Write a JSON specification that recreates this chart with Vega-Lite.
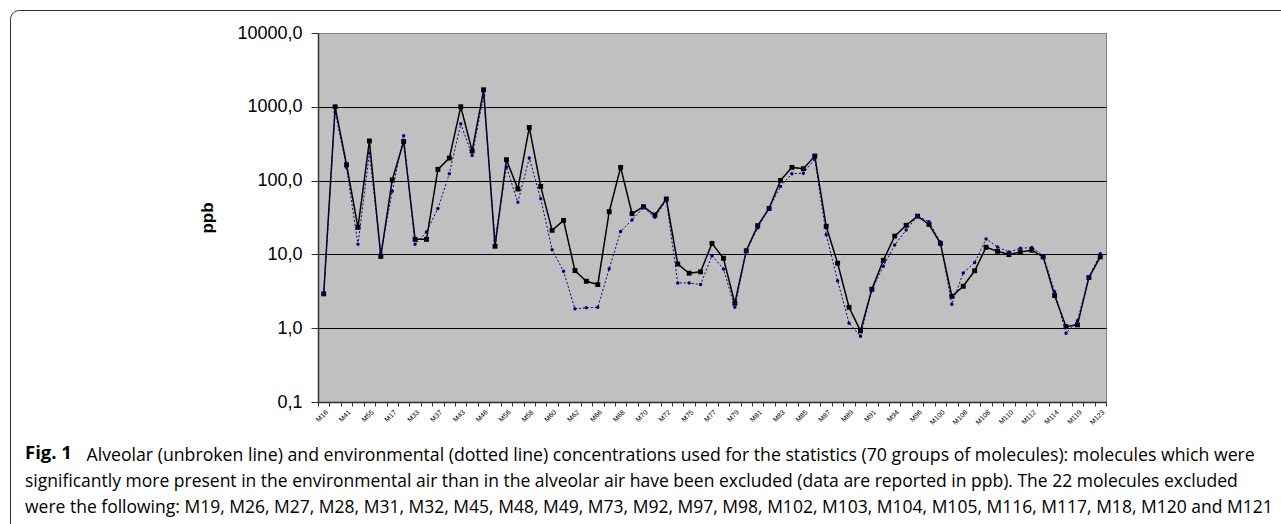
{
  "$schema": "https://vega.github.io/schema/vega-lite/v6.json",
  "width": 788,
  "height": 369,
  "autosize": {"type": "none"},
  "padding": {"left": 318, "top": 33, "right": 175, "bottom": 122},
  "background": "white",
  "config": {
    "view": {"fill": "#C0C0C0", "stroke": "#808080", "strokeWidth": 1},
    "font": "Liberation Sans"
  },
  "title": {
    "text": "Fig. 1",
    "subtitle": [
      "significantly more present in the environmental air than in the alveolar air have been excluded (data are reported in ppb). The 22 molecules excluded",
      "were the following: M19, M26, M27, M28, M31, M32, M45, M48, M49, M73, M92, M97, M98, M102, M103, M104, M105, M116, M117, M18, M120 and M121"
    ],
    "orient": "bottom",
    "anchor": "start",
    "frame": "group",
    "dx": -293,
    "dy": -83.5,
    "offset": 0,
    "baseline": "alphabetic",
    "font": "Open Sans",
    "fontSize": 18.5,
    "fontWeight": "bold",
    "color": "black",
    "subtitleFont": "Open Sans",
    "subtitleFontSize": 17.5,
    "subtitleFontWeight": "normal",
    "subtitleColor": "black",
    "subtitleLineHeight": 26.7,
    "subtitlePadding": 9
  },
  "data": {
    "values": [
      {"m": "M16", "alv": 2.92, "env": 2.9},
      {"m": "M40", "alv": 1000, "env": 850},
      {"m": "M41", "alv": 164, "env": 151},
      {"m": "M54", "alv": 23.3, "env": 13.7},
      {"m": "M55", "alv": 344, "env": 236},
      {"m": "M15", "alv": 9.4, "env": 10.5},
      {"m": "M17", "alv": 102, "env": 71.5},
      {"m": "M30", "alv": 339, "env": 405},
      {"m": "M33", "alv": 16, "env": 13.7},
      {"m": "M34", "alv": 16, "env": 20.1},
      {"m": "M37", "alv": 142, "env": 42},
      {"m": "M42", "alv": 202, "env": 124},
      {"m": "M43", "alv": 1000, "env": 589},
      {"m": "M44", "alv": 252, "env": 219},
      {"m": "M46", "alv": 1700, "env": 1422},
      {"m": "M47", "alv": 12.9, "env": 15.4},
      {"m": "M56", "alv": 192, "env": 153},
      {"m": "M57", "alv": 77, "env": 50.7},
      {"m": "M58", "alv": 525, "env": 202},
      {"m": "M59", "alv": 83.5, "env": 57},
      {"m": "M60", "alv": 21.2, "env": 11.6},
      {"m": "M61", "alv": 28.9, "env": 5.9},
      {"m": "M62", "alv": 6.04, "env": 1.83},
      {"m": "M65", "alv": 4.33, "env": 1.89},
      {"m": "M66", "alv": 3.9, "env": 1.92},
      {"m": "M67", "alv": 37.9, "env": 6.4},
      {"m": "M68", "alv": 151, "env": 20.5},
      {"m": "M69", "alv": 35.6, "env": 29.3},
      {"m": "M70", "alv": 44.3, "env": 43},
      {"m": "M71", "alv": 34.2, "env": 31.8},
      {"m": "M72", "alv": 56.3, "env": 54},
      {"m": "M74", "alv": 7.4, "env": 4.11},
      {"m": "M75", "alv": 5.56, "env": 4.11},
      {"m": "M76", "alv": 5.8, "env": 3.9},
      {"m": "M77", "alv": 14.1, "env": 9.6},
      {"m": "M78", "alv": 8.86, "env": 6.36},
      {"m": "M79", "alv": 2.18, "env": 1.92},
      {"m": "M80", "alv": 11.2, "env": 11},
      {"m": "M81", "alv": 24.5, "env": 22.8},
      {"m": "M82", "alv": 42, "env": 42},
      {"m": "M83", "alv": 100.7, "env": 83.5},
      {"m": "M84", "alv": 151, "env": 124},
      {"m": "M85", "alv": 145, "env": 126},
      {"m": "M86", "alv": 215, "env": 196},
      {"m": "M87", "alv": 24, "env": 18.5},
      {"m": "M88", "alv": 7.6, "env": 4.4},
      {"m": "M89", "alv": 1.92, "env": 1.17},
      {"m": "M90", "alv": 0.92, "env": 0.78},
      {"m": "M91", "alv": 3.37, "env": 3.3},
      {"m": "M93", "alv": 8.3, "env": 6.9},
      {"m": "M94", "alv": 17.7, "env": 13.4},
      {"m": "M95", "alv": 24.8, "env": 21.4},
      {"m": "M96", "alv": 33, "env": 33},
      {"m": "M99", "alv": 25.5, "env": 27.8},
      {"m": "M100", "alv": 14.1, "env": 14.7},
      {"m": "M101", "alv": 2.71, "env": 2.11},
      {"m": "M106", "alv": 3.7, "env": 5.6},
      {"m": "M107", "alv": 6.0, "env": 7.76},
      {"m": "M108", "alv": 12.5, "env": 16.2},
      {"m": "M109", "alv": 11.0, "env": 12.6},
      {"m": "M110", "alv": 9.94, "env": 10.8},
      {"m": "M111", "alv": 10.8, "env": 12.1},
      {"m": "M112", "alv": 11.4, "env": 12.4},
      {"m": "M113", "alv": 9.25, "env": 9.6},
      {"m": "M114", "alv": 2.77, "env": 3.13},
      {"m": "M115", "alv": 1.05, "env": 0.855},
      {"m": "M119", "alv": 1.11, "env": 1.26},
      {"m": "M122", "alv": 4.86, "env": 4.9},
      {"m": "M123", "alv": 9.25, "env": 10.2}
    ]
  },
  "encoding": {
    "x": {
      "field": "m",
      "type": "nominal",
      "sort": null,
      "scale": {"type": "band", "paddingInner": 0, "paddingOuter": 0},
      "axis": {
        "title": "Alveolar (unbroken line) and environmental (dotted line) concentrations used for the statistics (70 groups of molecules): molecules which were",
        "titleX": -232,
        "titleY": 58,
        "titleAlign": "left",
        "titleAnchor": "start",
        "titleBaseline": "alphabetic",
        "titleFont": "Open Sans",
        "titleFontSize": 17.7,
        "titleFontWeight": "normal",
        "titleColor": "black",
        "labelAngle": -45,
        "labelFontSize": 7,
        "labelColor": "black",
        "labelPadding": 2,
        "labelOverlap": false,
        "labelBound": false,
        "labelExpr": "indexof(['M16','M41','M55','M17','M33','M37','M43','M46','M56','M58','M60','M62','M66','M68','M70','M72','M75','M77','M79','M81','M83','M85','M87','M89','M91','M94','M96','M100','M106','M108','M110','M112','M114','M119','M123'], datum.value) >= 0 ? datum.label : ''",
        "tickBand": "extent",
        "tickSize": 4,
        "tickColor": "#303030",
        "domainColor": "#303030",
        "domainWidth": 1.5,
        "grid": false
      }
    }
  },
  "layer": [
    {
      "mark": {"type": "point", "opacity": 0, "size": 1},
      "encoding": {
        "y": {
          "field": "alv",
          "type": "quantitative",
          "scale": {"type": "log", "domain": [0.1, 10000], "nice": false}
        },
        "color": {
          "field": "alv",
          "type": "quantitative",
          "scale": {"range": ["rgba(0,0,0,0)", "rgba(0,0,0,0)"]},
          "legend": {
            "orient": "none",
            "legendX": -308,
            "legendY": -23,
            "direction": "horizontal",
            "title": null,
            "labelOpacity": 0,
            "gradientLength": 780,
            "gradientThickness": 10,
            "gradientStrokeWidth": 0,
            "padding": 255,
            "strokeColor": "#303030",
            "cornerRadius": 9,
            "fillColor": null
          }
        }
      }
    },
    {
      "mark": {
        "type": "line",
        "color": "black",
        "strokeWidth": 1.5,
        "point": {"shape": "square", "filled": true, "size": 24, "color": "black"}
      },
      "encoding": {
        "y": {
          "field": "alv",
          "type": "quantitative",
          "scale": {"type": "log", "domain": [0.1, 10000], "nice": false},
          "axis": {
            "values": [0.1, 1, 10, 100, 1000, 10000],
            "labelExpr": "replace(format(datum.value, '.1f'), '.', ',')",
            "title": "ppb",
            "titleFontSize": 17,
            "titleFontWeight": "bold",
            "titleColor": "black",
            "titlePadding": 20,
            "labelFontSize": 18,
            "labelColor": "black",
            "labelPadding": 9,
            "tickSize": 7,
            "tickColor": "#303030",
            "domainColor": "#303030",
            "domainWidth": 1.5,
            "gridColor": {"condition": {"test": "datum.value >= 10000 || datum.value <= 0.1", "value": "#808080"}, "value": "#000000"},
            "gridWidth": 1
          }
        }
      }
    },
    {
      "mark": {
        "type": "line",
        "color": "#000080",
        "strokeWidth": 1,
        "strokeDash": [2, 2],
        "point": {"shape": "circle", "filled": true, "size": 12, "color": "#000080"}
      },
      "encoding": {
        "y": {
          "field": "env",
          "type": "quantitative",
          "scale": {"type": "log", "domain": [0.1, 10000], "nice": false}
        }
      }
    }
  ]
}
